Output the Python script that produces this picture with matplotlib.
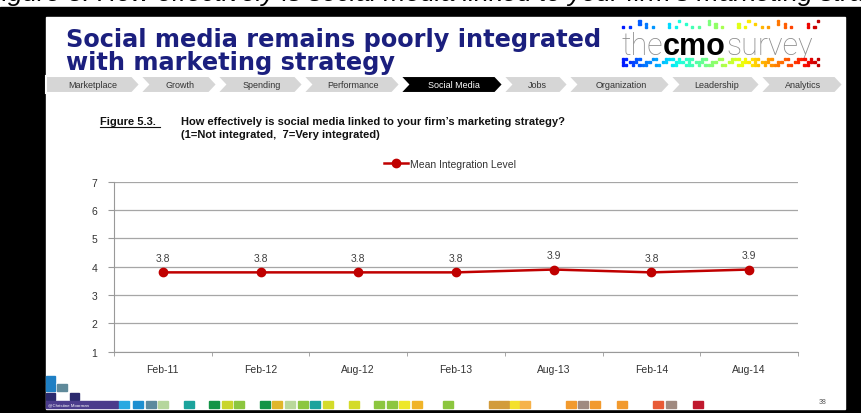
import numpy as np
import matplotlib
matplotlib.use('Agg')
import matplotlib.pyplot as plt
from matplotlib.patches import Rectangle, Polygon

plt.rcParams['font.family'] = ['Liberation Sans', 'DejaVu Sans']

# Data
waves = ['Feb-11', 'Feb-12', 'Aug-12', 'Feb-13', 'Aug-13', 'Feb-14', 'Aug-14']
mean_level = [3.8, 3.8, 3.8, 3.8, 3.9, 3.8, 3.9]
y_ticks = [1, 2, 3, 4, 5, 6, 7]
nav_labels = ['Marketplace', 'Growth', 'Spending', 'Performance', 'Social Media',
              'Jobs', 'Organization', 'Leadership', 'Analytics']
nav_edges = [46, 140, 217, 303, 400, 503, 568, 670, 760, 843]
active_tab = 'Social Media'
foot_x = [119, 133, 146, 158, 184, 209, 222, 234, 260, 272, 285, 298, 310, 323,
          349, 374, 387, 399, 412, 443, 489, 499, 510, 520, 566, 578, 590, 617,
          653, 666, 693]
foot_c = ['#29A9E1', '#1D8FD0', '#5B8A9E', '#B5D69C', '#1BA39C', '#149447',
          '#C9D52B', '#8CC63F', '#149447', '#E0B62A', '#B9D89A', '#8CC63F',
          '#1BA39C', '#D4DB2A', '#D4DB2A', '#8CC63F', '#8CC63F', '#EEE82A',
          '#F0B429', '#8CC63F', '#D29B3A', '#D29B3A', '#F4E12A', '#F6B24A',
          '#F29A2E', '#A08A80', '#F29A2E', '#F29A2E', '#E85A36', '#A08A80',
          '#C0192E']

W, H = 862, 414
fig = plt.figure(figsize=(W / 100, H / 100), dpi=100, facecolor='black')
rend = fig.canvas.get_renderer()

# slide background / decoration in pixel coordinates
bg = fig.add_axes([0, 0, 1, 1])
bg.set_xlim(0, W)
bg.set_ylim(H, 0)
bg.axis('off')
bg.add_patch(Rectangle((0, 0), W, 8, color='white', zorder=0))
bg.text(-14, 1.5, 'Figure 5: How effectively is social media linked to your firm\u2019s marketing strategy?',
        fontsize=19, style='italic', color='black', va='baseline', zorder=1, clip_on=True)
bg.add_patch(Rectangle((0, 8), W, 10, color='black', zorder=2))
bg.add_patch(Rectangle((46, 18), 799, 392, color='white', zorder=2))

bg.text(66, 47, 'Social media remains poorly integrated', fontsize=17.3,
        family='DejaVu Sans', fontweight='bold', color='#1B1F7E', va='baseline', zorder=3)
bg.text(66, 70, 'with marketing strategy', fontsize=17.3,
        family='DejaVu Sans', fontweight='bold', color='#1B1F7E', va='baseline', zorder=3)

# logo
xpos = 621
for part, kw in [('the', dict(color='#8C8C8C', family='Roboto', fontweight='light')),
                 ('cmo', dict(color='black', fontweight='bold')),
                 ('survey', dict(color='#8C8C8C', family='Roboto', fontweight='light'))]:
    t = bg.text(xpos, 55, part, fontsize=22, va='baseline', zorder=3, **kw)
    xpos = t.get_window_extent(rend).x1 + 0.5
cmap = matplotlib.colormaps['jet']
for i, xx in enumerate(np.arange(622, 818, 3.3)):
    col = cmap(0.15 + 0.8 * (xx - 622) / 196)
    for r in range(3):
        if (i * 5 + r * 3) % 7 in (0, 3) and r < 1 + (i % 3):
            bg.add_patch(Rectangle((xx, 27 - r * 3), 2.2, 2.2, color=col, zorder=3))
        if (i * 7 + r * 4) % 5 in (0, 3) or (i + r) % 4 == 1:
            bg.add_patch(Rectangle((xx, 59 + r * 3), 2.2, 2.2, color=col, zorder=3))

# navigation bar
top, bot, d = 77, 94, 8
mid = (top + bot) / 2
for k, lab in enumerate(nav_labels):
    a, b = nav_edges[k], nav_edges[k + 1]
    pts = [(a, top), (b - d, top), (b, mid), (b - d, bot), (a, bot)]
    if k > 0:
        pts.append((a + d, mid))
    active = lab == active_tab
    bg.add_patch(Polygon(pts, closed=True, facecolor='black' if active else '#D6D6D6',
                         edgecolor='white', lw=1.5, zorder=3))
    cx = (a + b) / 2 if k == 0 else (a + b) / 2 + 2
    bg.text(cx, mid, lab, fontsize=6.5, ha='center', va='center',
            color='white' if active else '#333333', zorder=4)

# figure caption
bg.text(100, 122, 'Figure 5.3.', fontsize=8, fontweight='bold', color='#111111',
        va='center', zorder=3)
bg.plot([100, 160], [127.5, 127.5], color='#111111', lw=0.8, zorder=3)
bg.text(181, 122, 'How effectively is social media linked to your firm\u2019s marketing strategy?',
        fontsize=8, fontweight='bold', color='#111111', va='center', zorder=3)
bg.text(181, 135, '(1=Not integrated,  7=Very integrated)', fontsize=8,
        fontweight='bold', color='#111111', va='center', zorder=3)

# footer
bg.add_patch(Rectangle((46, 377), 9, 7, color='#1E7FC4', zorder=3))
bg.add_patch(Rectangle((46, 385), 9, 7, color='#1E7FC4', zorder=3))
bg.add_patch(Rectangle((57, 385), 10, 7, color='#5F8A9A', zorder=3))
bg.add_patch(Rectangle((46, 394), 9, 7, color='#2B2A6E', zorder=3))
bg.add_patch(Rectangle((70, 394), 9, 7, color='#2B2A6E', zorder=3))
bg.add_patch(Rectangle((46, 402), 72, 7, color='#4B3C8C', zorder=3))
bg.text(48, 405.5, '@Christine Moorman', fontsize=3.2, color='white', va='center', zorder=4)
for xx, cc in zip(foot_x, foot_c):
    bg.add_patch(Rectangle((xx, 402), 10, 7, color=cc, zorder=3))
bg.text(823, 403, '38', fontsize=5, color='#555555', ha='center', va='center', zorder=3)

# chart
ax = fig.add_axes([114 / W, 1 - 352.7 / H, (798 - 114) / W, (352.7 - 182.7) / H])
ax.set_facecolor('none')
x = np.arange(len(waves))
ax.plot(x, mean_level, color='#C00000', lw=1.8, marker='o', ms=6,
        label='Mean Integration Level', zorder=3)
for xi, v in zip(x, mean_level):
    ax.annotate(f'{v:.1f}', (xi, v), xytext=(0, 7), textcoords='offset points',
                ha='center', va='bottom', fontsize=7.5, color='#404040')
ax.set_xlim(-0.5, len(waves) - 0.5)
ax.set_ylim(1, 7)
ax.set_yticks(y_ticks)
ax.set_xticks(x)
ax.set_xticklabels(waves)
ax.set_xticks(np.arange(-0.5, len(waves)), minor=True)
ax.tick_params(axis='x', which='major', length=0, pad=9, labelsize=7.5, labelcolor='#333333')
ax.tick_params(axis='x', which='minor', length=3, color='#999999')
ax.tick_params(axis='y', length=4, color='#999999', pad=8, labelsize=7.5, labelcolor='#333333')
ax.grid(axis='y', color='#A6A6A6', lw=0.9)
for s in ['top', 'right']:
    ax.spines[s].set_visible(False)
for s in ['left', 'bottom']:
    ax.spines[s].set_color('#999999')
ax.legend(loc='center', bbox_to_anchor=(450 / W, 1 - 165 / H), bbox_transform=fig.transFigure,
          frameon=False, fontsize=7.5, handlelength=2.3, handletextpad=0.2,
          labelcolor='#333333')

fig.savefig('out.png', dpi=100, facecolor='black')
